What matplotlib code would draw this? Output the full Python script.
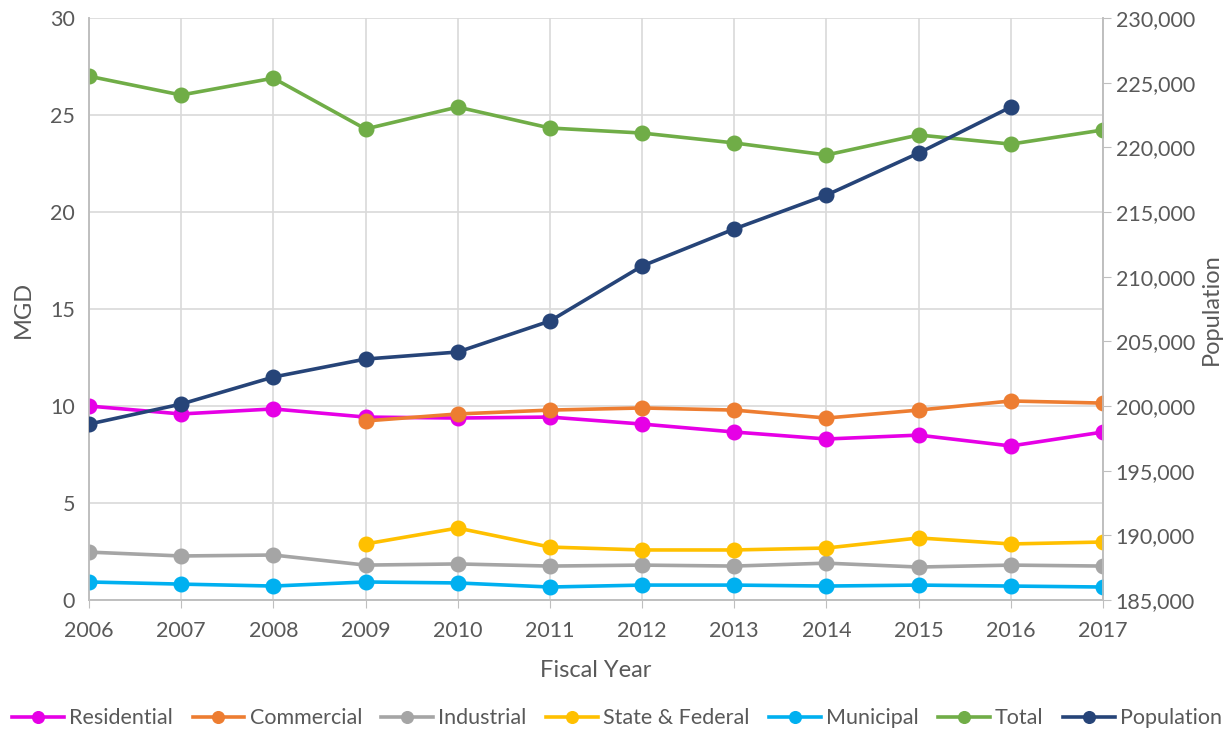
import matplotlib
matplotlib.use("Agg")
import matplotlib.pyplot as plt
from matplotlib.ticker import FuncFormatter
import numpy as np

years = list(range(2006, 2018))

residential = [10.0, 9.59, 9.85, 9.43, 9.38, 9.43, 9.07, 8.66, 8.30, 8.50, 7.94, 8.66]
commercial = [None, None, None, 9.23, 9.59, 9.79, 9.90, 9.79, 9.38, 9.79, 10.26, 10.15]
industrial = [2.47, 2.27, 2.32, 1.80, 1.86, 1.75, 1.80, 1.75, 1.90, 1.70, 1.80, 1.75]
state_federal = [None, None, None, 2.89, 3.71, 2.73, 2.58, 2.58, 2.68, 3.20, 2.89, 2.99]
municipal = [0.93, 0.82, 0.72, 0.93, 0.88, 0.67, 0.77, 0.77, 0.72, 0.77, 0.72, 0.67]
total = [27.0, 26.03, 26.9, 24.28, 25.41, 24.33, 24.07, 23.56, 22.94, 23.97, 23.50, 24.23]
population = [198600, 200150, 202240, 203630, 204175, 206570, 210825, 213690, 216310, 219560, 223120, None]

mgd_series = [
    ("Residential", residential, "#E600E6"),
    ("Commercial", commercial, "#ED7D31"),
    ("Industrial", industrial, "#A5A5A5"),
    ("State & Federal", state_federal, "#FFC000"),
    ("Municipal", municipal, "#00B0F0"),
    ("Total", total, "#70AD47"),
]
pop_color = "#264478"

TEXT = "#595959"
GRID = "#D9D9D9"
AXIS = "#BFBFBF"

plt.rcParams["font.family"] = ["Lato", "DejaVu Sans"]

fig = plt.figure(figsize=(12.27, 7.32), dpi=100)
ax = fig.add_axes([0.0725, 0.1803, 0.8265, 0.7951])
ax2 = ax.twinx()

def as_arr(vals):
    return np.array([np.nan if v is None else v for v in vals], dtype=float)

handles = []
for name, vals, color in mgd_series:
    h, = ax.plot(years, as_arr(vals), color=color, lw=2.6, marker="o", ms=10.5,
                 label=name, zorder=3)
    handles.append(h)
h, = ax2.plot(years, as_arr(population), color=pop_color, lw=2.6, marker="o", ms=10.5,
              label="Population", zorder=3)
handles.append(h)

ax.set_xlim(2006, 2017)
ax.set_ylim(0, 30)
ax.set_yticks(range(0, 31, 5))
ax.set_xticks(years)
ax2.set_ylim(185000, 230000)
ax2.set_yticks(range(185000, 230001, 5000))
ax2.yaxis.set_major_formatter(FuncFormatter(lambda v, p: f"{int(v):,}"))

ax.grid(True, color=GRID, lw=1.2)
ax.set_axisbelow(True)
for a in (ax, ax2):
    a.spines["top"].set_visible(False)
    for side in ("left", "right", "bottom"):
        a.spines[side].set_color(AXIS)
        a.spines[side].set_linewidth(1.2)
ax.tick_params(axis="y", length=0, colors=TEXT, labelsize=15.5, pad=10)
ax.tick_params(axis="x", length=6, color=AXIS, colors=TEXT, labelsize=15.5, pad=9)
ax2.tick_params(axis="y", length=6, color=AXIS, colors=TEXT, labelsize=15.5, pad=3)

ax.set_xlabel("Fiscal Year", color=TEXT, fontsize=17, labelpad=14)
ax.set_ylabel("MGD", color=TEXT, fontsize=17, labelpad=12)
ax2.set_ylabel("Population", color=TEXT, fontsize=17, labelpad=4)

fig.legend(handles=handles, loc="center", bbox_to_anchor=(0.503, 0.019), ncol=7,
           frameon=False, fontsize=15.5, labelcolor=TEXT, handlelength=2.4,
           handletextpad=0.25, columnspacing=0.9, markerscale=0.8)

fig.savefig("out.png", dpi=100)
